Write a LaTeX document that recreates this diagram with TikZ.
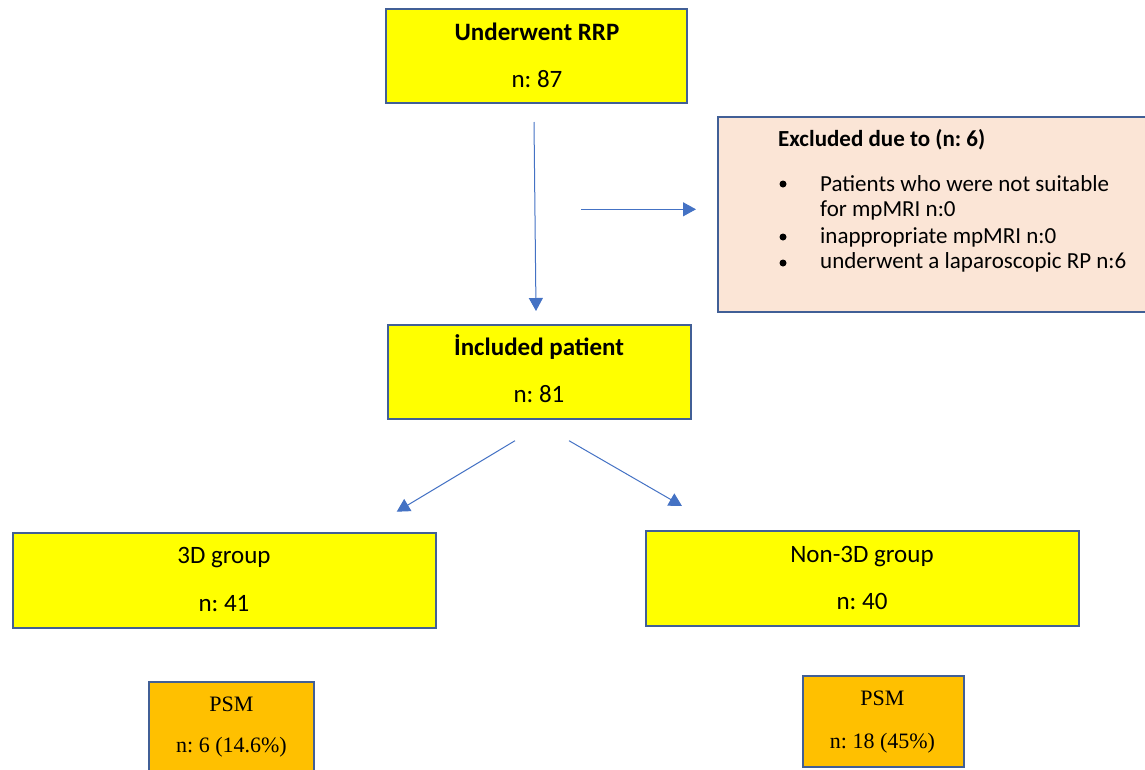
\documentclass[tikz,border=0pt]{standalone}
\usepackage{fontspec}
\setmainfont{Carlito}
\newfontfamily\psmfont{Liberation Serif}
\usetikzlibrary{arrows.meta}
\definecolor{bd}{RGB}{65,95,150}
\definecolor{ar}{RGB}{68,114,196}
\definecolor{yl}{RGB}{255,255,0}
\definecolor{pk}{RGB}{251,229,214}
\definecolor{og}{RGB}{255,192,0}
\frenchspacing
\begin{document}
\frenchspacing
\begin{tikzpicture}[x=1pt,y=-1pt,
  box/.style={draw=bd, line width=2pt, inner sep=0pt, rectangle},
  ybox/.style={box, fill=yl},
  obox/.style={box, fill=og},
  pbox/.style={box, fill=pk},
  txt/.style={anchor=base, inner sep=0pt, font=\fontsize{25}{29}\selectfont},
  btxt/.style={txt, font=\fontsize{25}{29}\selectfont\bfseries},
  etxt/.style={anchor=base west, inner sep=0pt, font=\fontsize{23}{27}\selectfont},
  ptxt/.style={anchor=base, inner sep=0pt, font=\psmfont\fontsize{22}{26}\selectfont},
  arr/.style={draw=ar, line width=1pt, -{Triangle[length=13pt,width=14pt]}}
]
\useasboundingbox (0,0) rectangle (1145,769);
\clip (0,0) rectangle (1145,769);

% boxes
\node[ybox, minimum width=301pt, minimum height=94pt] (rrp) at (536.5,56) {};
\node[pbox, minimum width=440pt, minimum height=195pt] (exc) at (938,214.5) {};
\node[ybox, minimum width=303pt, minimum height=94pt] (inc) at (539,372) {};
\node[ybox, minimum width=423pt, minimum height=95pt] (g3d) at (224,580) {};
\node[ybox, minimum width=433pt, minimum height=95pt] (gn3d) at (862,578.5) {};
\node[obox, minimum width=165pt, minimum height=100pt] (psmA) at (231.5,731.7) {};
\node[obox, minimum width=161pt, minimum height=91.5pt] (psmB) at (883,721.5) {};

% texts
\node[btxt] (rrpT) at (537,40) {Underwent RRP};
\node[txt] (rrpN) at (537,87) {n: 87};
\node[btxt] (incT) at (539,355) {İncluded patient};
\node[txt] (incN) at (539,402.5) {n: 81};
\node[txt] (g3dT) at (224,563) {3D group};
\node[txt] (g3dN) at (224,611) {n: 41};
\node[txt] (gn3dT) at (862,562) {Non-3D group};
\node[txt] (gn3dN) at (862,609) {n: 40};
\node[ptxt] (psmAT) at (231.5,711) {PSM};
\node[ptxt] (psmAN) at (231.5,752) {n: 6 (14.6\%)};
\node[ptxt] (psmBT) at (882.5,705) {PSM};
\node[ptxt] (psmBN) at (882.5,748) {n: 18 (45\%)};

\node[etxt, font=\fontsize{23}{27}\selectfont\bfseries] (excT) at (778,146) {Excluded due to (n: 6)};
\node[etxt] (e1) at (820,191) {Patients who were not suitable};
\node[etxt] (e1b) at (820,216) {for mpMRI n:0};
\node[etxt] (e2) at (820,243) {inappropriate mpMRI n:0};
\node[etxt] (e3) at (820,268) {underwent a laparoscopic RP n:6};
\foreach \yy/\nm in {184/b1,237/b2,263/b3}
  \node[circle, fill=black, inner sep=0pt, minimum size=7pt] (\nm) at (783,\yy) {};

% connectors
\coordinate (v1) at (534,122);
\coordinate (v2) at (536,311);
\coordinate (h1) at (581,209.3);
\coordinate (h2) at (696,209.3);
\coordinate (l1) at (515,440.7);
\coordinate (l2) at (396.7,511.7);
\coordinate (r1) at (569,440.7);
\coordinate (r2) at (682,506);
\draw[arr] (v1) -- (v2);
\draw[arr] (h1) -- (h2);
\draw[arr] (l1) -- (l2);
\draw[arr] (r1) -- (r2);
\end{tikzpicture}
\end{document}
